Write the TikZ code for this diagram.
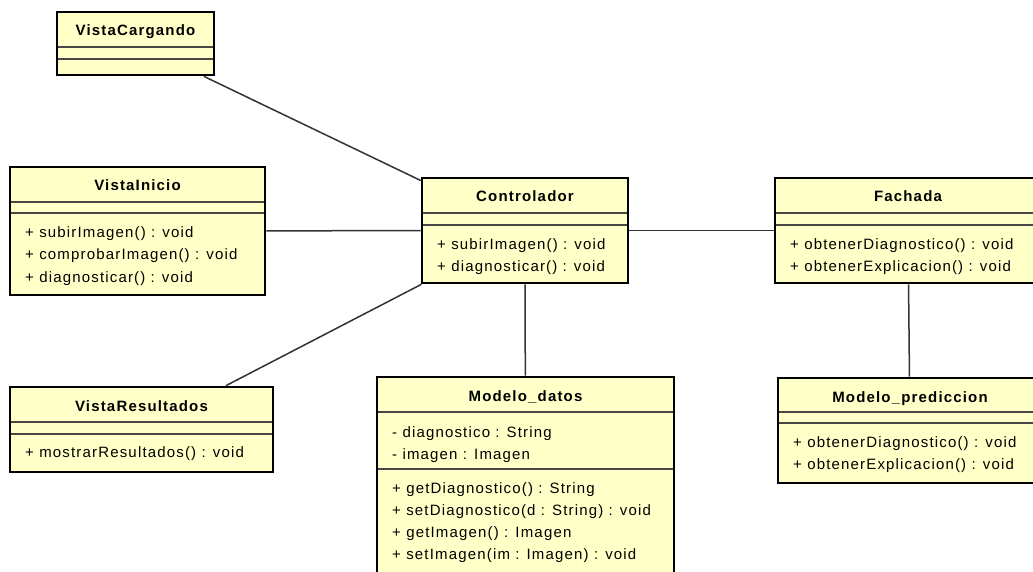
\documentclass[tikz,border=0pt]{standalone}
\usepackage{fontspec}
\setmainfont{Liberation Sans}[LetterSpace=7.8]
\definecolor{classfill}{RGB}{255,255,200}
\definecolor{sepgray}{RGB}{70,70,70}
\definecolor{linkgray}{RGB}{50,50,50}

% class box: name, left, top, right, bottom (in px units)
\newcommand\umlbox[5]{%
  \node[classbox, minimum width={(#4-#2)*1pt}, minimum height={(#5-#3)*1pt}]
    (#1) at ({(#2+#4)/2},{(#3+#5)/2}) {};}
% compartment separator: left, right, y
\newcommand\umlsep[3]{\draw[sepline] ({#1+1.3},#3) -- ({#2-1.3},#3);}

\begin{document}
\begin{tikzpicture}[x=1pt,y=-1pt,
  classbox/.style={draw=black, line width=2.6pt, fill=classfill, inner sep=0pt, rectangle},
  sepline/.style={draw=sepgray, line width=1.3pt},
  title/.style={font=\fontsize{15}{17}\selectfont\bfseries, anchor=base, inner sep=0pt},
  member/.style={font=\fontsize{15}{17}\selectfont, anchor=base west, inner sep=0pt},
  link/.style={draw=linkgray, line width=1.5pt}]
\useasboundingbox (0,0) rectangle (1033,572);
\clip (0,0) rectangle (1033,572);

% classes
\umlbox{vc}{57}{12}{214}{75}
\umlsep{57}{214}{47}\umlsep{57}{214}{59}
\node[title] (vct) at (135.5,36) {VistaCargando};

\umlbox{vi}{10}{167}{265}{295}
\umlsep{10}{265}{202}\umlsep{10}{265}{213}
\node[title] (vit) at (137.5,191) {VistaInicio};
\node[member] (vio1) at (25,237) {+ subirImagen() : void};
\node[member] (vio2) at (25,259.5) {+ comprobarImagen() : void};
\node[member] (vio3) at (25,282) {+ diagnosticar() : void};

\umlbox{ctl}{422}{178}{628}{283}
\umlsep{422}{628}{213}\umlsep{422}{628}{225}
\node[title] (ctlt) at (525,202) {Controlador};
\node[member] (ctlo1) at (437,249) {+ subirImagen() : void};
\node[member] (ctlo2) at (437,271) {+ diagnosticar() : void};

\umlbox{fa}{775}{178}{1041}{283}
\umlsep{775}{1041}{213}\umlsep{775}{1041}{225}
\node[title] (fat) at (908,202) {Fachada};
\node[member] (fao1) at (790,249) {+ obtenerDiagnostico() : void};
\node[member] (fao2) at (790,271) {+ obtenerExplicacion() : void};

\umlbox{vr}{10}{387}{273}{472}
\umlsep{10}{273}{422}\umlsep{10}{273}{434}
\node[title] (vrt) at (141.5,411) {VistaResultados};
\node[member] (vro1) at (25,457) {+ mostrarResultados() : void};

\umlbox{md}{377}{377}{674}{590}
\umlsep{377}{674}{412}\umlsep{377}{674}{469}
\node[title] (mdt) at (525.5,401) {Modelo\_datos};
\node[member] (mda1) at (392,437) {- diagnostico : String};
\node[member] (mda2) at (392,459) {- imagen : Imagen};
\node[member] (mdo1) at (392,493) {+ getDiagnostico() : String};
\node[member] (mdo2) at (392,515) {+ setDiagnostico(d : String) : void};
\node[member] (mdo3) at (392,537) {+ getImagen() : Imagen};
\node[member] (mdo4) at (392,559) {+ setImagen(im : Imagen) : void};

\umlbox{mp}{778}{378}{1042}{483}
\umlsep{778}{1042}{412}\umlsep{778}{1042}{423}
\node[title] (mpt) at (910,402) {Modelo\_prediccion};
\node[member] (mpo1) at (793,447) {+ obtenerDiagnostico() : void};
\node[member] (mpo2) at (793,469) {+ obtenerExplicacion() : void};

% associations
\draw[link] (vc) -- (ctl);
\draw[link] (vi) -- (ctl);
\draw[link] (vr) -- (ctl);
\draw[link] (ctl) -- (md);
\draw[link] (ctl) -- (fa);
\draw[link] (fa) -- (mp);
\end{tikzpicture}
\end{document}
